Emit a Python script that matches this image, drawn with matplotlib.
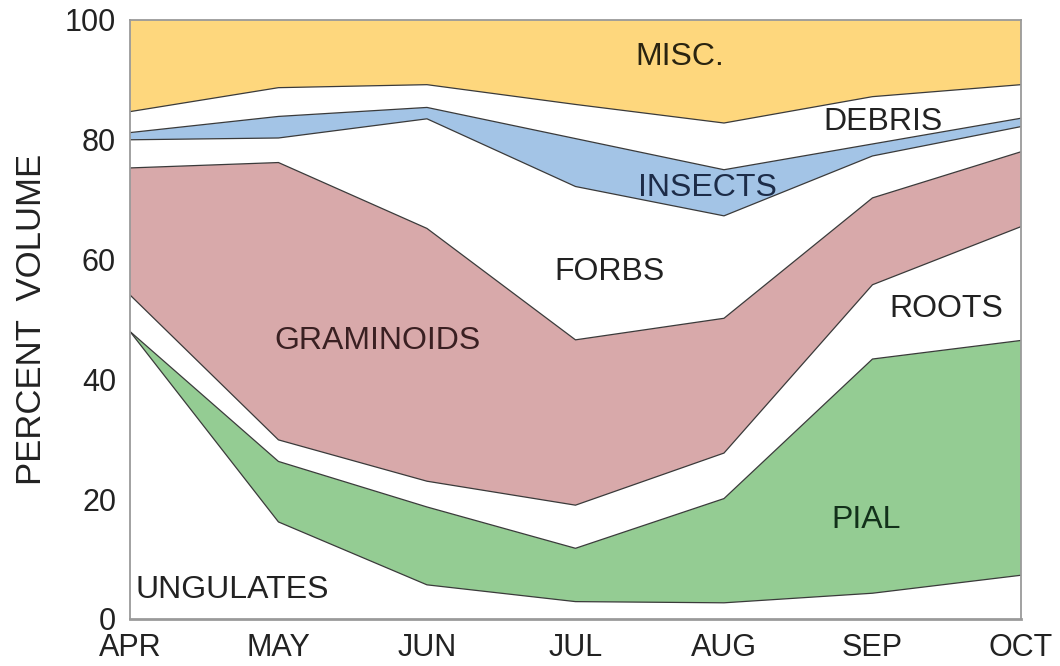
import numpy as np
import matplotlib
matplotlib.use("Agg")
import matplotlib.pyplot as plt

plt.rcParams['font.family'] = ['Liberation Sans', 'DejaVu Sans']

months = ["APR", "MAY", "JUN", "JUL", "AUG", "SEP", "OCT"]
layer_names = ["UNGULATES", "PIAL", "ROOTS", "GRAMINOIDS", "FORBS", "INSECTS", "DEBRIS", "MISC."]
ungulates  = [48.0, 16.2, 5.7, 2.9, 2.7, 4.3, 7.3]
pial       = [0.0, 10.1, 13.0, 8.9, 17.4, 39.1, 39.2]
roots      = [6.1, 3.6, 4.3, 7.2, 7.6, 12.4, 19.0]
graminoids = [21.2, 46.3, 42.2, 27.6, 22.5, 14.5, 12.5]
forbs      = [4.7, 4.1, 18.3, 25.6, 17.1, 7.0, 4.2]
insects    = [1.2, 3.6, 1.9, 8.0, 7.7, 2.0, 1.4]
debris     = [3.5, 4.8, 3.8, 5.7, 7.8, 7.9, 5.6]
misc       = [15.3, 11.3, 10.8, 14.1, 17.2, 12.8, 10.8]

colors = ["white", "#94cc93", "white", "#d8a9aa", "white", "#a3c4e6", "white", "#fed77d"]
label_pos = [(0.69, 4.8), (4.96, 16.5), (5.5, 51.8), (1.67, 46.4), (3.23, 58.0),
             (3.89, 72.0), (5.07, 83.0), (3.7, 93.8)]
label_colors = ["#222222", "#12301a", "#222222", "#3a2022", "#222222", "#1d2c48", "#222222", "#2a2410"]

layers = [ungulates, pial, roots, graminoids, forbs, insects, debris, misc]
x = np.arange(len(months))

fig = plt.figure(figsize=(10.6, 6.66), dpi=100)
ax = fig.add_axes([0.1226, 0.0706, 0.8406, 0.8994])

ax.stackplot(x, *layers, colors=colors, linewidth=0)
tops = np.cumsum(np.array(layers), axis=0)
for row in tops[:-1]:
    ax.plot(x, row, color="#3a3a3a", linewidth=0.9)

for name, (lx, ly), c in zip(layer_names, label_pos, label_colors):
    ax.text(lx, ly, name, ha="center", va="center", fontsize=23, color=c)

ax.set_xlim(0, len(months) - 1)
ax.set_ylim(0, 100)
ax.set_xticks(x)
ax.set_xticklabels(months, fontsize=22, color="#222222")
ax.set_yticks([0, 20, 40, 60, 80, 100])
ax.set_yticklabels(["0", "20", "40", "60", "80", "100"], fontsize=22, color="#222222")
ax.tick_params(length=0, pad=10)
ax.tick_params(axis="x", pad=10)
ax.set_ylabel("PERCENT  VOLUME", fontsize=25, color="#222222", labelpad=12)
for s in ax.spines.values():
    s.set_color("#9a9a9a")
    s.set_linewidth(1.3)
ax.spines["bottom"].set_linewidth(2.0)

fig.savefig("out.png", dpi=100)
